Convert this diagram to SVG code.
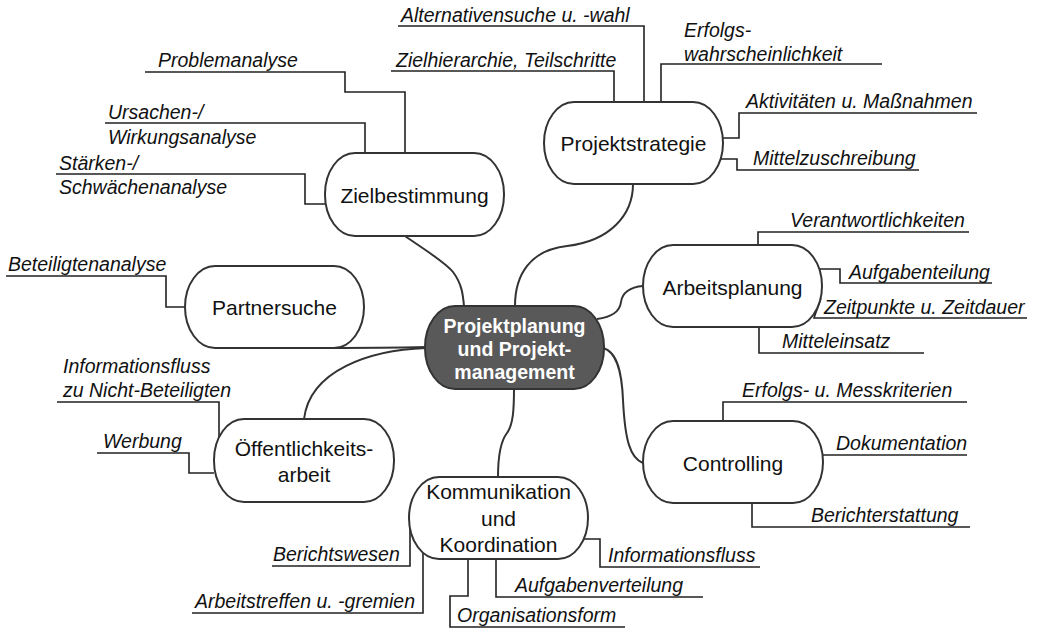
<svg xmlns="http://www.w3.org/2000/svg" width="1042" height="630" viewBox="0 0 1042 630">
<style>
.node{fill:#ffffff;stroke:#333333;stroke-width:2}
.center{fill:#595959;stroke:#333333;stroke-width:2}
.lbl{font-family:"Liberation Sans",Arial,sans-serif;font-size:21px;fill:#111111;text-anchor:middle}
.ctr{font-family:"Liberation Sans",Arial,sans-serif;font-size:19.5px;font-weight:bold;fill:#ffffff;text-anchor:middle}
.it{font-family:"Liberation Sans",Arial,sans-serif;font-size:19.5px;font-style:italic;fill:#111111}
.con{fill:none;stroke:#333333;stroke-width:2}
.br{fill:none;stroke:#222222;stroke-width:1.6}
</style>
<rect width="1042" height="630" fill="#ffffff"/>
<g id="connectors">
<path class="con" d="M405,236 C425,250 445,262 453,272 C462,284 463,295 464,306"/>
<path class="con" d="M515,306 C515,275 530,250 567,246 C610,241 633,215 633,184"/>
<path class="con" d="M597,319 C613,317 620,310 621,302 C622,293 630,287 643,286"/>
<path class="con" d="M426,347 C390,348 330,348 280,348"/>
<path class="con" d="M426,348 C370,350 310,370 304,419"/>
<path class="con" d="M514,389 C514,410 513,425 507,433 C500,442 498,460 498,477"/>
<path class="con" d="M603,348 C618,352 622,375 623,400 C625,440 630,458 643,463"/>
<path class="br" d="M145,72 H345 V92 H405 V153"/>
<path class="br" d="M105,123 H365 V153"/>
<path class="br" d="M56,174 H305 V204 H325"/>
<path class="br" d="M6,276 H166 V307 H185"/>
<path class="br" d="M398,26 H644 V102"/>
<path class="br" d="M391,71 H614 V102"/>
<path class="br" d="M661,102 V64 H882"/>
<path class="br" d="M723,138 H739 V113 H977"/>
<path class="br" d="M721,159 H737 V170 H919"/>
<path class="br" d="M758,245 V232 H969"/>
<path class="br" d="M820,269 H840 V283 H992"/>
<path class="br" d="M821,298 L814,318 H1027"/>
<path class="br" d="M759,327 V353 H924"/>
<path class="br" d="M723,421 V402 H967"/>
<path class="br" d="M822,455 H967"/>
<path class="br" d="M752,503 V527 H970"/>
<path class="br" d="M584,539 H600 V567 H760"/>
<path class="br" d="M496,559 V597 H703"/>
<path class="br" d="M468,559 V596 H450 V627 H625"/>
<path class="br" d="M423,553 V613 H192"/>
<path class="br" d="M410,527 V566 H272"/>
<path class="br" d="M57,402 H219 V437"/>
<path class="br" d="M97,453 H189 V473 H214"/>
</g>
<g id="n-center">
<rect class="center" x="425" y="306" width="179" height="83" rx="30" ry="41"/>
<text class="ctr" x="514.5" y="333">Projektplanung</text>
<text class="ctr" x="514.5" y="356">und Projekt-</text>
<text class="ctr" x="514.5" y="379">management</text>
</g>
<g id="n-ziel">
<rect class="node" x="325" y="153" width="179" height="83" rx="30" ry="41"/>
<text class="lbl" x="414.5" y="202.5">Zielbestimmung</text>
</g>
<g id="n-partner">
<rect class="node" x="185" y="266" width="179" height="82" rx="30" ry="41"/>
<text class="lbl" x="274.5" y="315">Partnersuche</text>
</g>
<g id="n-strategie">
<rect class="node" x="544" y="102" width="179" height="82" rx="30" ry="41"/>
<text class="lbl" x="633.5" y="151">Projektstrategie</text>
</g>
<g id="n-arbeit">
<rect class="node" x="643" y="245" width="179" height="82" rx="30" ry="41"/>
<text class="lbl" x="732.5" y="295">Arbeitsplanung</text>
</g>
<g id="n-controlling">
<rect class="node" x="643" y="421" width="180" height="82" rx="30" ry="41"/>
<text class="lbl" x="733" y="471">Controlling</text>
</g>
<g id="n-oeffentlich">
<rect class="node" x="214" y="419" width="180" height="83" rx="30" ry="41"/>
<text class="lbl" x="304" y="456">Öffentlichkeits-</text>
<text class="lbl" x="304" y="482">arbeit</text>
</g>
<g id="n-kommunikation">
<rect class="node" x="409" y="477" width="179" height="82" rx="30" ry="41"/>
<text class="lbl" x="498.5" y="499">Kommunikation</text>
<text class="lbl" x="498.5" y="526">und</text>
<text class="lbl" x="498.5" y="552">Koordination</text>
</g>
<g id="labels">
<text class="it" x="401" y="22">Alternativensuche u. -wahl</text>
<text class="it" x="396" y="67">Zielhierarchie, Teilschritte</text>
<text class="it" x="158" y="67">Problemanalyse</text>
<text class="it" x="684" y="37">Erfolgs-</text>
<text class="it" x="684" y="61">wahrscheinlichkeit</text>
<text class="it" x="746" y="108">Aktivitäten u. Maßnahmen</text>
<text class="it" x="753" y="165">Mittelzuschreibung</text>
<text class="it" x="108" y="119">Ursachen-/</text>
<text class="it" x="108" y="144">Wirkungsanalyse</text>
<text class="it" x="59" y="170">Stärken-/</text>
<text class="it" x="59" y="194">Schwächenanalyse</text>
<text class="it" x="8" y="271">Beteiligtenanalyse</text>
<text class="it" x="790" y="227">Verantwortlichkeiten</text>
<text class="it" x="849" y="279">Aufgabenteilung</text>
<text class="it" x="824" y="314">Zeitpunkte u. Zeitdauer</text>
<text class="it" x="782" y="348">Mitteleinsatz</text>
<text class="it" x="742" y="397">Erfolgs- u. Messkriterien</text>
<text class="it" x="836" y="450">Dokumentation</text>
<text class="it" x="811" y="522">Berichterstattung</text>
<text class="it" x="608" y="562">Informationsfluss</text>
<text class="it" x="515" y="592">Aufgabenverteilung</text>
<text class="it" x="457" y="622">Organisationsform</text>
<text class="it" x="195" y="608">Arbeitstreffen u. -gremien</text>
<text class="it" x="273" y="561">Berichtswesen</text>
<text class="it" x="63" y="373">Informationsfluss</text>
<text class="it" x="63" y="397">zu Nicht-Beteiligten</text>
<text class="it" x="103" y="448">Werbung</text>
</g>
</svg>
